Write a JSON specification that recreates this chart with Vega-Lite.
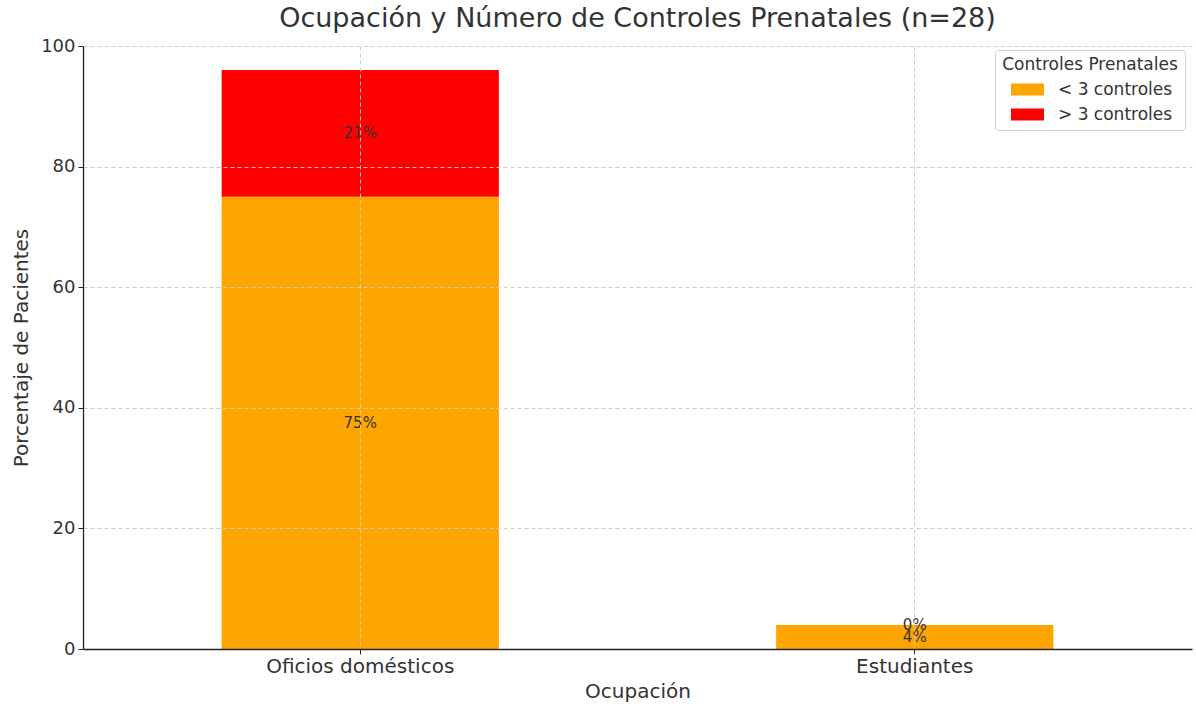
{
  "$schema": "https://vega.github.io/schema/vega-lite/v6.json",
  "width": 1109,
  "height": 603,
  "autosize": {"type": "none"},
  "padding": {"left": 83, "top": 46, "right": 4, "bottom": 55},
  "background": "white",
  "config": {
    "view": {"stroke": null},
    "font": "DejaVu Sans"
  },
  "title": {
    "text": "Ocupación y Número de Controles Prenatales (n=28)",
    "fontSize": 27,
    "fontWeight": "normal",
    "font": "DejaVu Sans",
    "color": "#333333",
    "anchor": "middle",
    "offset": 4
  },
  "data": {
    "values": [
      {"ocupacion": "Oficios domésticos", "controles": "< 3 controles", "orden": 0, "valor": 75},
      {"ocupacion": "Oficios domésticos", "controles": "> 3 controles", "orden": 1, "valor": 21},
      {"ocupacion": "Estudiantes", "controles": "< 3 controles", "orden": 0, "valor": 4},
      {"ocupacion": "Estudiantes", "controles": "> 3 controles", "orden": 1, "valor": 0}
    ]
  },
  "transform": [
    {"stack": "valor", "groupby": ["ocupacion"], "sort": [{"field": "orden", "order": "ascending"}], "as": ["v0", "v1"]},
    {"calculate": "(datum.v0 + datum.v1) / 2", "as": "vmid"},
    {"calculate": "datum.valor + '%'", "as": "etiqueta"}
  ],
  "encoding": {
    "x": {
      "field": "ocupacion",
      "type": "nominal",
      "sort": ["Oficios domésticos", "Estudiantes"],
      "scale": {"paddingInner": 0.5, "paddingOuter": 0.25},
      "axis": {
        "title": "Ocupación",
        "labelAngle": 0,
        "labelLimit": 500,
        "bandPosition": 0.5,
        "grid": true,
        "gridDash": [4, 3],
        "gridColor": "#cccccc",
        "gridWidth": 1,
        "zindex": 1,
        "domainColor": "#222222",
        "domainWidth": 1.3,
        "tickColor": "#222222",
        "tickSize": 5,
        "labelFontSize": 20,
        "labelColor": "#333333",
        "labelPadding": 2,
        "titleFontSize": 20,
        "titleFontWeight": "normal",
        "titleColor": "#333333",
        "titlePadding": 5
      }
    }
  },
  "layer": [
    {
      "mark": {"type": "bar"},
      "encoding": {
        "y": {
          "field": "v0",
          "type": "quantitative",
          "scale": {"domain": [0, 100]},
          "axis": {
            "title": "Porcentaje de Pacientes",
            "values": [0, 20, 40, 60, 80, 100],
            "grid": true,
            "gridDash": [4, 3],
            "gridColor": "#cccccc",
            "gridWidth": 1,
            "zindex": 1,
            "domainColor": "#222222",
            "domainWidth": 1.3,
            "tickColor": "#222222",
            "tickSize": 5,
            "labelFontSize": 18,
            "labelColor": "#333333",
            "labelPadding": 3,
            "titleFontSize": 20,
            "titleFontWeight": "normal",
            "titleColor": "#333333",
            "titlePadding": 9
          }
        },
        "y2": {"field": "v1"},
        "color": {
          "field": "controles",
          "type": "nominal",
          "scale": {"domain": ["< 3 controles", "> 3 controles"], "range": ["#FFA500", "#FF0000"]},
          "legend": {
            "title": "Controles Prenatales",
            "orient": "none",
            "legendX": 912,
            "legendY": 4,
            "fillColor": "white",
            "strokeColor": "#d0d0d0",
            "cornerRadius": 3,
            "padding": 7,
            "titleFontSize": 17,
            "titleFontWeight": "normal",
            "titleColor": "#333333",
            "titleAnchor": "middle",
            "titlePadding": -1,
            "labelFontSize": 17,
            "labelColor": "#333333",
            "labelOffset": 14,
            "rowPadding": 0,
            "symbolOffset": 4,
            "symbolType": "M-1,-0.36H1V0.36H-1Z",
            "symbolSize": 1089,
            "symbolStrokeWidth": 0,
            "symbolOpacity": 1
          }
        }
      }
    },
    {
      "mark": {"type": "text", "fontSize": 15, "color": "#333333", "baseline": "middle", "align": "center"},
      "encoding": {
        "y": {"field": "vmid", "type": "quantitative"},
        "text": {"field": "etiqueta", "type": "nominal"}
      }
    }
  ]
}
